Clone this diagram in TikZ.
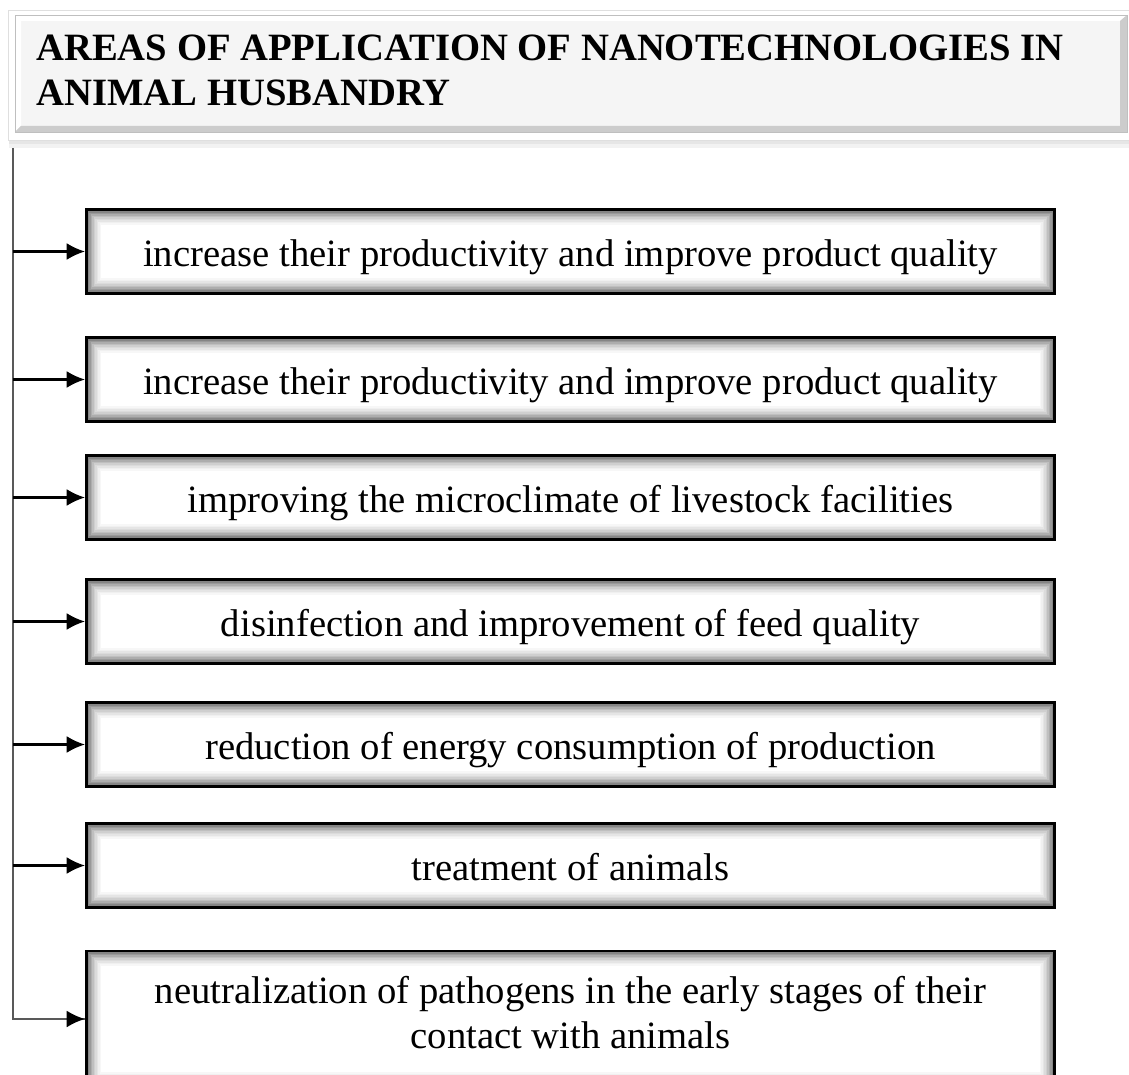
\documentclass[tikz,border=0pt]{standalone}
\usepackage{fontspec}
\setmainfont{Liberation Serif}
\usetikzlibrary{arrows.meta,positioning,calc}

\begin{document}
\begin{tikzpicture}[x=0.025cm,y=-0.025cm,
	every node/.style={font=\fontsize{27.5}{32}\selectfont},
	itembox/.style={draw,line width=2pt,fill=white,minimum width=24.2cm,minimum height=2.08cm,inner sep=0pt,align=center,
		text height=26pt,text depth=5pt,
		path picture={\foreach \k/\c in {2/48,3.5/40,5/32,6.5/25,8/19,9.5/14,11/10,12.5/6,14/3}
			\draw[black!\c,line width=1.2pt] ([shift={(\k,\k)}]path picture bounding box.north west) rectangle ([shift={(-\k,-\k)}]path picture bounding box.south east);}},
	feed/.style={line width=1.5pt,-{Latex[length=13pt,width=12pt]}}]
	\useasboundingbox (0,0) rectangle (1129,1075);
	\clip (0,0) rectangle (1129,1075);

	\fill[black,opacity=0.05] (9,13) rectangle (1131,148);
	\fill[black,opacity=0.05] (9,12) rectangle (1130,144);
	\fill[white] (8,10) rectangle (1129,140);
	\draw[gray!25,line width=0.7pt] (8,10) rectangle (1129,140);
	\fill[gray!8] (15,15) rectangle (1127,132);
	\fill[white] (15,15) -- (1127,15) -- (1120,21) -- (21,21) -- (21,126) -- (15,132) -- cycle;
	\fill[gray!40] (15,132) -- (1127,132) -- (1127,15) -- (1120,21) -- (1120,126) -- (21,126) -- cycle;
	\draw[gray!50,line width=0.7pt] (15,15) rectangle (1127,132);
	\node[anchor=north west,align=left,inner sep=0pt,font=\fontsize{27.5}{32}\selectfont\bfseries] (title) at (36,35)
		{AREAS OF APPLICATION OF NANOTECHNOLOGIES IN\\ANIMAL HUSBANDRY};

	\node[itembox] (b1) at (570.5,251.5) {increase their productivity and improve product quality};
	\node[itembox] (b2) at (570.5,379.5) {increase their productivity and improve product quality};
	\node[itembox] (b3) at (570.5,497.5) {improving the microclimate of livestock facilities};
	\node[itembox] (b4) at (570.5,621.5) {disinfection and improvement of feed quality};
	\node[itembox] (b5) at (570.5,744.5) {reduction of energy consumption of production};
	\node[itembox] (b6) at (570.5,865.5) {treatment of animals};
	\node[itembox,minimum height=3.4cm,text height=,text depth=] (b7) at (570.5,1019) {neutralization of pathogens in the early stages of their\\contact with animals\strut};

	\coordinate (trunk) at (13,148);
	\draw[gray!70!black,line width=1.4pt] (trunk) |- (b7.west);
	\foreach \i in {1,...,6}
		\draw[feed] (b\i.west -| trunk) -- (b\i.west);
	\draw[feed] ([xshift=40]b7.west -| trunk) -- (b7.west);
\end{tikzpicture}
\end{document}
